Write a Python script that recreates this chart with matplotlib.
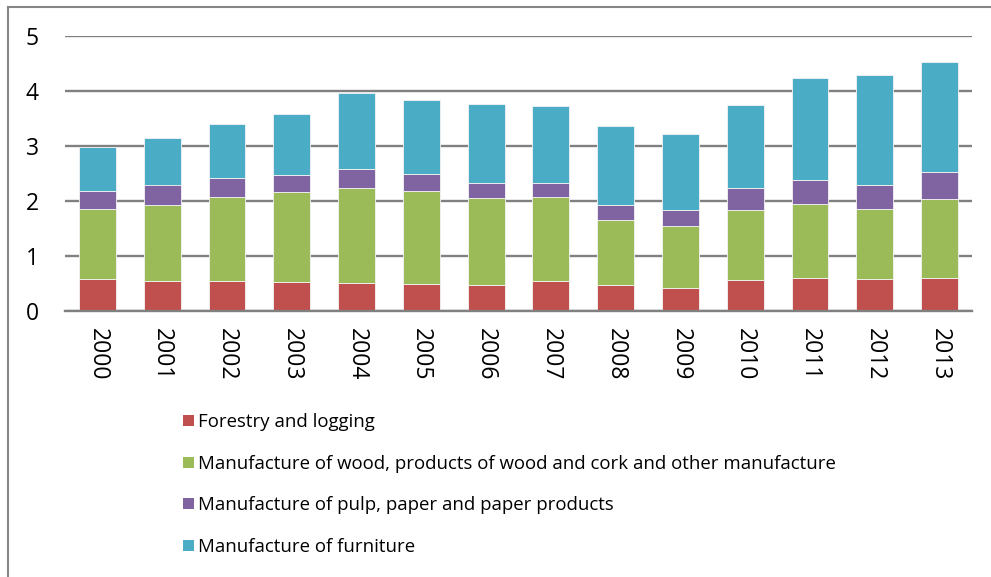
import numpy as np
import matplotlib.pyplot as plt
from matplotlib.patches import Patch
from matplotlib.lines import Line2D

years = ['2000', '2001', '2002', '2003', '2004', '2005', '2006',
         '2007', '2008', '2009', '2010', '2011', '2012', '2013']
forestry = [0.58, 0.54, 0.54, 0.52, 0.51, 0.49, 0.47, 0.55, 0.47, 0.41, 0.56, 0.60, 0.59, 0.60]
wood = [1.27, 1.38, 1.53, 1.64, 1.72, 1.69, 1.58, 1.52, 1.19, 1.14, 1.27, 1.35, 1.27, 1.43]
pulp = [0.33, 0.38, 0.34, 0.32, 0.35, 0.32, 0.28, 0.26, 0.27, 0.29, 0.41, 0.44, 0.43, 0.50]
furniture = [0.80, 0.85, 0.99, 1.10, 1.39, 1.33, 1.44, 1.39, 1.44, 1.38, 1.51, 1.84, 2.00, 1.99]

labels = ['Forestry and logging',
          'Manufacture of wood, products of wood and cork and other manufacture',
          'Manufacture of pulp, paper and paper products',
          'Manufacture of furniture']
colors = ['#C0504D', '#9BBB59', '#8064A2', '#4BACC6']

plt.rcParams['font.family'] = ['Open Sans', 'DejaVu Sans']

fig = plt.figure(figsize=(9.91, 5.77), dpi=100)
W, H = 991.0, 577.0
ax = fig.add_axes([65 / W, 1 - 311 / H, 907 / W, 275 / H])

x = np.arange(len(years))
series = [forestry, wood, pulp, furniture]
bottom = np.zeros(len(years))
for vals, c, lab in zip(series, colors, labels):
    ax.bar(x, vals, 0.57, bottom=bottom, color=c, edgecolor='#f4f4f4',
           linewidth=0.6, label=lab, zorder=3)
    bottom = bottom + np.array(vals)

ax.set_xlim(-0.5, 13.5)
ax.set_ylim(0, 5)
ax.set_yticks([0, 1, 2, 3, 4, 5])
ax.yaxis.grid(True, color='#808080', linewidth=1.7, zorder=0)
ax.set_axisbelow(True)
for s in ['top', 'right', 'left']:
    ax.spines[s].set_visible(False)
ax.spines['bottom'].set_color('#808080')
ax.spines['bottom'].set_linewidth(1.7)
ax.spines['bottom'].set_zorder(4)
ax.set_xticks(x)
ax.set_xticklabels(years, rotation=270, fontsize=16.5)
ax.tick_params(axis='x', length=0, pad=12)
ax.tick_params(axis='y', length=0, pad=19, labelsize=16.5)

handles = [Patch(facecolor=c, edgecolor='none') for c in colors]
fig.legend(handles, labels, loc='upper left', bbox_to_anchor=(176 / W, 1 - 406 / H),
           frameon=False, fontsize=13.4, handlelength=0.55, handleheight=0.55,
           handletextpad=0.25, labelspacing=1.26, borderaxespad=0)

# outer chart frame (top and left edges visible)
fig.add_artist(Line2D([8 / W, 1.0], [1 - 7 / H, 1 - 7 / H], color='#868686', linewidth=1.5))
fig.add_artist(Line2D([8 / W, 8 / W], [0, 1 - 7 / H], color='#868686', linewidth=1.5))

fig.savefig('out.png', dpi=100)
